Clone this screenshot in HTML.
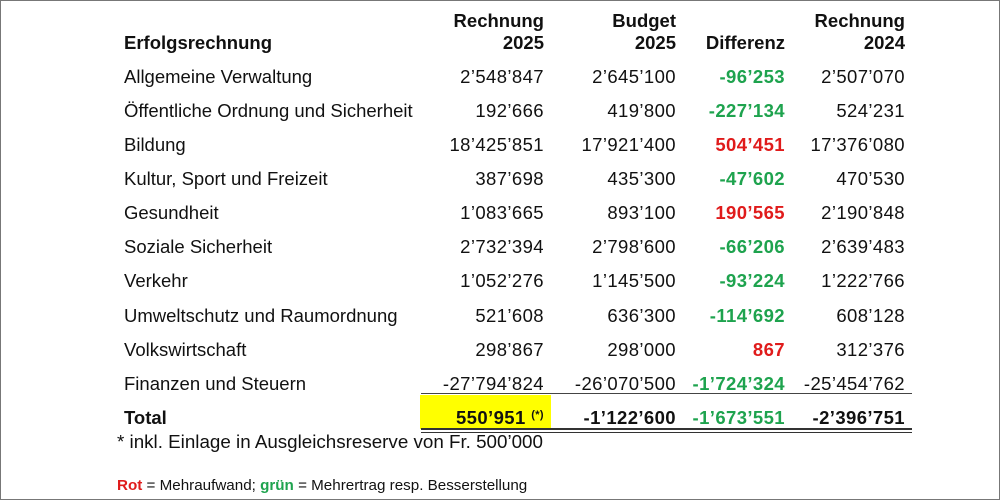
<!DOCTYPE html>
<html><head><meta charset="utf-8"><style>
body{margin:0;width:1000px;height:500px;background:#fff;font-family:"Liberation Sans",Arial,sans-serif;color:#111;}
#f{position:absolute;left:0;top:0;width:998px;height:498px;border:1px solid #777;}
.t{position:absolute;font-size:18.5px;line-height:20px;white-space:nowrap;}
.r{text-align:right;}
.b{font-weight:bold;}
.g{color:#1ea34e;font-weight:bold;}
.red{color:#e01b1b;font-weight:bold;}
.n{letter-spacing:0.4px;}
</style></head><body>
<div id="f"></div>
<div style="position:absolute;left:420px;top:395px;width:131px;height:34px;background:#ffff00"></div>
<div style="position:absolute;left:421px;top:393px;width:491px;height:1px;background:#444"></div>
<div style="position:absolute;left:421px;top:428px;width:491px;height:2px;background:#333"></div>
<div style="position:absolute;left:421px;top:432px;width:491px;height:1px;background:#333"></div>
<div id="c"></div>
<script>
const rows=[
["Allgemeine Verwaltung","2’548’847","2’645’100","-96’253","g","2’507’070"],
["Öffentliche Ordnung und Sicherheit","192’666","419’800","-227’134","g","524’231"],
["Bildung","18’425’851","17’921’400","504’451","red","17’376’080"],
["Kultur, Sport und Freizeit","387’698","435’300","-47’602","g","470’530"],
["Gesundheit","1’083’665","893’100","190’565","red","2’190’848"],
["Soziale Sicherheit","2’732’394","2’798’600","-66’206","g","2’639’483"],
["Verkehr","1’052’276","1’145’500","-93’224","g","1’222’766"],
["Umweltschutz und Raumordnung","521’608","636’300","-114’692","g","608’128"],
["Volkswirtschaft","298’867","298’000","867","red","312’376"],
["Finanzen und Steuern","-27’794’824","-26’070’500","-1’724’324","g","-25’454’762"]];
let h="";
const R=[544,676,785,905];
function tr(x,y,txt,cls){return `<div class="t r n ${cls}" style="right:${1000-x}px;top:${y-9}px">${txt}</div>`;}
function th(x,y,txt){return `<div class="t r b" style="right:${1000-x}px;top:${y-9}px">${txt}</div>`;}
function tl(x,y,txt,cls){return `<div class="t ${cls}" style="left:${x}px;top:${y-9}px">${txt}</div>`;}
h+=tl(124,42,"Erfolgsrechnung","b");
h+=th(R[0],20,"Rechnung")+th(R[0],42,"2025");
h+=th(R[1],20,"Budget")+th(R[1],42,"2025");
h+=th(R[2],42,"Differenz");
h+=th(R[3],20,"Rechnung")+th(R[3],42,"2024");
rows.forEach((r,i)=>{const y=75.5+i*34.15;
h+=tl(124,y,r[0],"")+tr(R[0],y,r[1],"")+tr(R[1],y,r[2],"")+tr(R[2],y,r[3],r[4])+tr(R[3],y,r[5],"");});
const y=417;
h+=tl(124,y,"Total","b")+tr(R[0],y,'550’951 <sup style="font-size:11px;vertical-align:6px;line-height:0">(*)</sup>',"b")+tr(R[1],y,"-1’122’600","b")+tr(R[2],y,"-1’673’551","g")+tr(R[3],y,"-2’396’751","b");
h+=`<div class="t" style="left:117px;top:432px;font-size:18.8px">* inkl. Einlage in Ausgleichsreserve von Fr. 500’000</div>`;
h+=`<div class="t" style="left:117px;top:477px;font-size:15.2px;line-height:18px"><span style="color:#e01b1b;font-weight:bold">Rot</span> = Mehraufwand; <span style="color:#1ea34e;font-weight:bold">grün</span> = Mehrertrag resp. Besserstellung</div>`;
document.getElementById("c").innerHTML=h;
</script>
</body></html>
